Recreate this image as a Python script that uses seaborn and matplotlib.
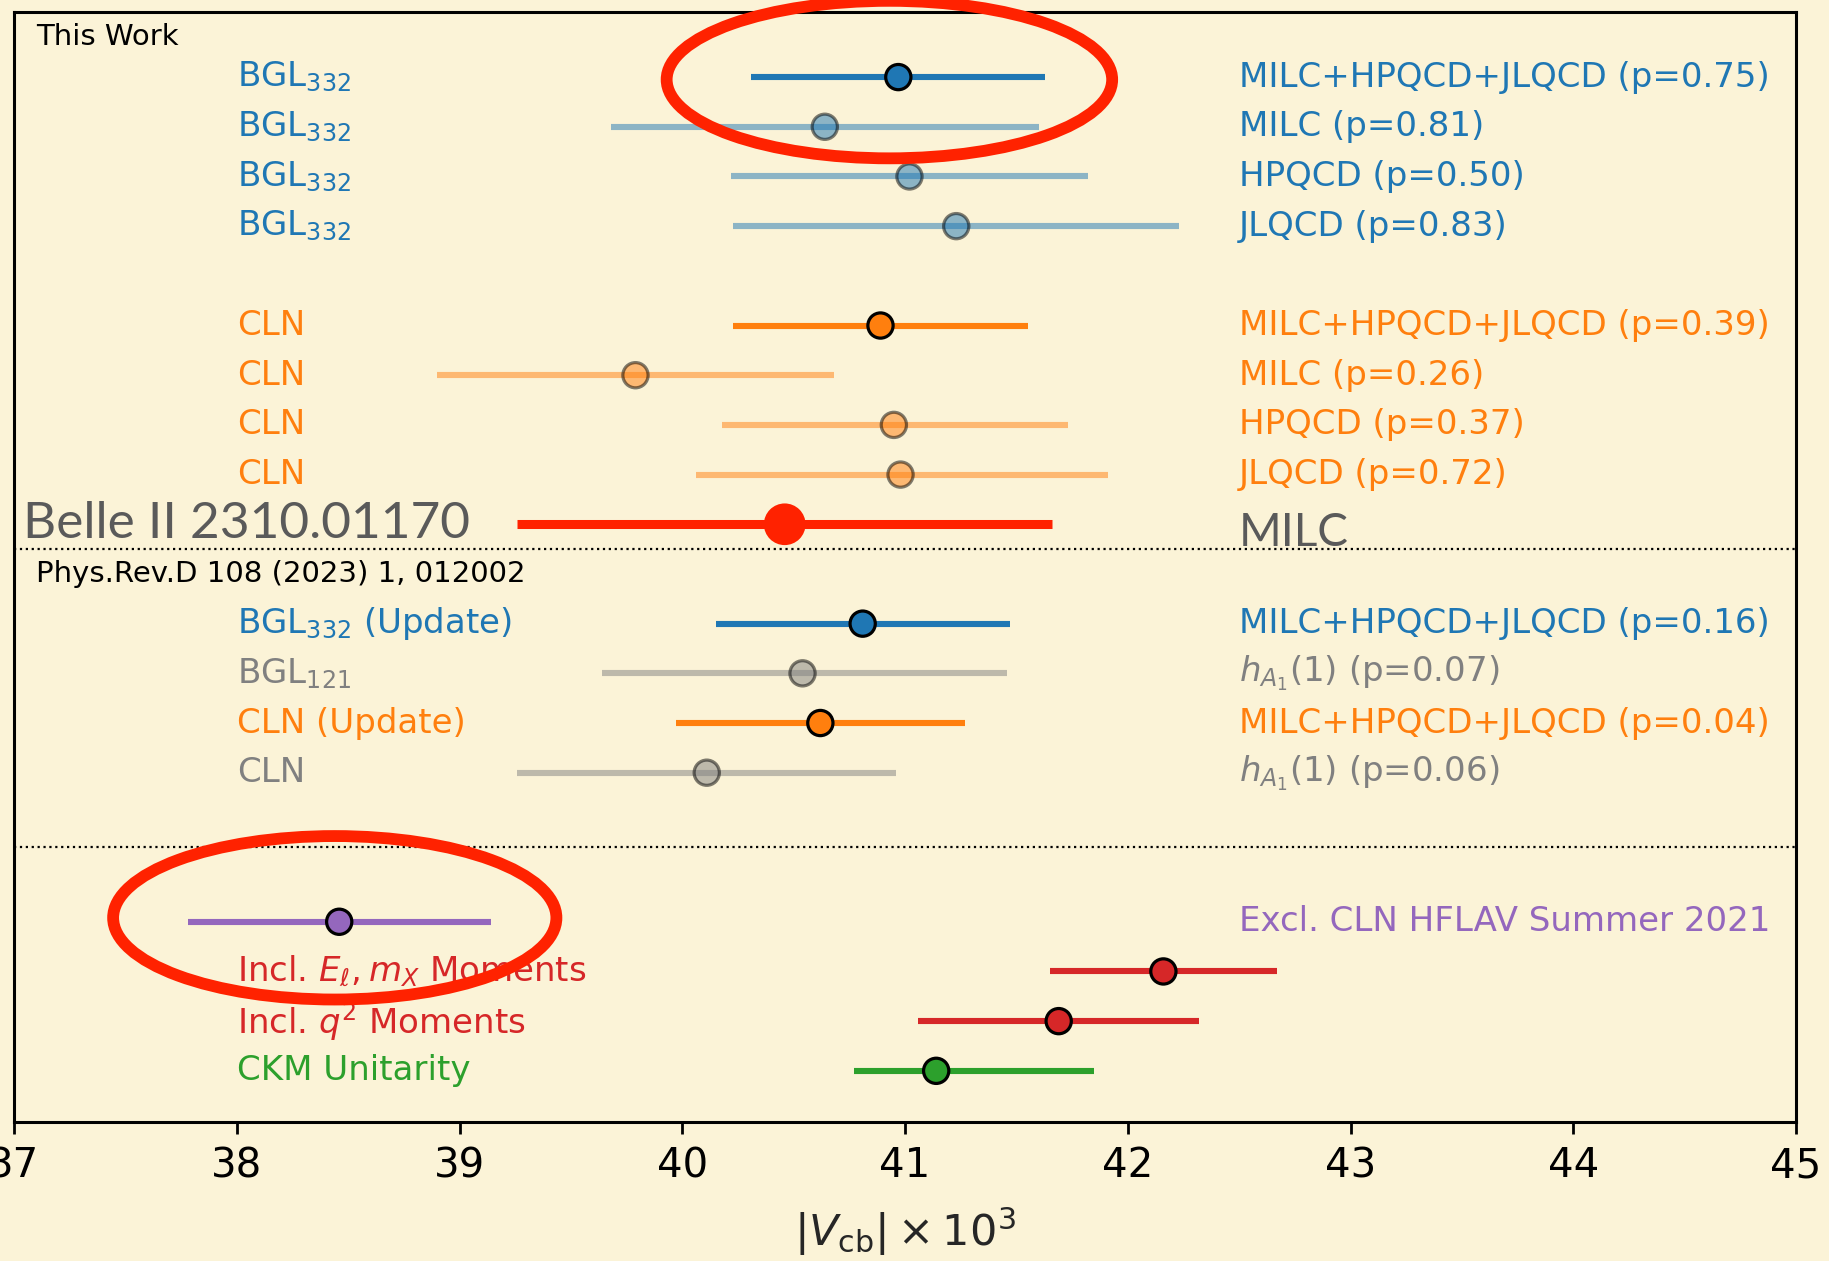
import numpy as np
import pandas as pd
import seaborn as sns
import matplotlib
matplotlib.use("Agg")
import matplotlib.pyplot as plt
from matplotlib.patches import Ellipse

# ---------------- data ----------------
y_pos = [20, 19, 18, 17, 15, 14, 13, 12, 9, 8, 7, 6, 3, 2, 1, 0]
centers = [40.97, 40.64, 41.02, 41.23, 40.89, 39.79, 40.95, 40.98,
           40.81, 40.54, 40.62, 40.11, 38.46, 42.16, 41.69, 41.14]
lows = [40.31, 39.68, 40.22, 40.23, 40.23, 38.90, 40.18, 40.06,
        40.15, 39.64, 39.97, 39.26, 37.78, 41.65, 41.06, 40.77]
highs = [41.63, 41.60, 41.82, 42.23, 41.55, 40.68, 41.73, 41.91,
         41.47, 41.46, 41.27, 40.96, 39.14, 42.67, 42.32, 41.85]
colors = ["#1f77b4"] * 4 + ["#ff7f0e"] * 4 + \
         ["#1f77b4", "#808080", "#ff7f0e", "#808080",
          "#9467bd", "#d62728", "#d62728", "#2ca02c"]
faded = [False, True, True, True, False, True, True, True,
         False, True, False, True, False, False, False, False]
left_labels = ["BGL$_{332}$"] * 4 + ["CLN"] * 4 + \
              ["BGL$_{332}$ (Update)", "BGL$_{121}$", "CLN (Update)", "CLN",
               "", r"Incl. $E_\ell, m_X$ Moments", r"Incl. $q^2$ Moments",
               "CKM Unitarity"]
right_labels = ["MILC+HPQCD+JLQCD (p=0.75)", "MILC (p=0.81)", "HPQCD (p=0.50)",
                "JLQCD (p=0.83)", "MILC+HPQCD+JLQCD (p=0.39)", "MILC (p=0.26)",
                "HPQCD (p=0.37)", "JLQCD (p=0.72)", "MILC+HPQCD+JLQCD (p=0.16)",
                "$h_{A_1}(1)$ (p=0.07)", "MILC+HPQCD+JLQCD (p=0.04)",
                "$h_{A_1}(1)$ (p=0.06)", "Excl. CLN HFLAV Summer 2021", "", "", ""]

belle_y = 11.0
belle_center = 40.46
belle_low = 39.26
belle_high = 41.66

x_ticks = [37, 38, 39, 40, 41, 42, 43, 44, 45]

df = pd.DataFrame(dict(y=y_pos, c=centers, lo=lows, hi=highs,
                       color=colors, faded=faded))

# ---------------- style ----------------
BG = "#fbf3d7"
sns.set_theme(style="ticks")
plt.rcParams["font.family"] = ["DejaVu Sans"]
plt.rcParams["mathtext.fontset"] = "dejavusans"

fig = plt.figure(figsize=(18.29, 12.61), dpi=100, facecolor=BG)
ax = fig.add_axes([14 / 1829, 1 - 1122 / 1261, (1796 - 14) / 1829, (1122 - 12) / 1261])
ax.set_facecolor(BG)

# error bars
for is_faded, grp in df.groupby("faded"):
    ax.hlines(grp["y"], grp["lo"], grp["hi"], colors=grp["color"],
              linewidth=4.4, alpha=0.5 if is_faded else 1.0, zorder=2)

pal = {c: c for c in set(colors)}
for is_faded, grp in df.groupby("faded"):
    sns.scatterplot(data=grp, x="c", y="y", hue="color", palette=pal,
                    s=330, edgecolor="black", linewidth=2.3,
                    alpha=0.5 if is_faded else 1.0, legend=False, ax=ax, zorder=3)

# Belle II overlay
ax.hlines([belle_y], [belle_low], [belle_high], colors="#ff2200", linewidth=6.5, zorder=4)
sns.scatterplot(x=[belle_center], y=[belle_y], color="#ff2200", s=900,
                edgecolor="none", linewidth=0, legend=False, ax=ax, zorder=5)

# labels
for yy, ll, rl, col in zip(y_pos, left_labels, right_labels, colors):
    if ll:
        ax.text(38.0, yy, ll, color=col, fontsize=24.5, va="center", ha="left")
    if rl:
        ax.text(42.5, yy, rl, color=col, fontsize=24.5, va="center", ha="left")

ax.text(37.1, 20.8, "This Work", fontsize=21, color="black", va="center")
ax.text(37.1, 10.0, "Phys.Rev.D 108 (2023) 1, 012002", fontsize=21,
        color="black", va="center")
ax.text(37.04, 11.0, "Belle II 2310.01170", fontsize=37, color="#5a5a5a",
        va="center", ha="left", family=["Lato", "DejaVu Sans"])
ax.text(42.5, 10.82, "MILC", fontsize=33, color="#5a5a5a",
        va="center", ha="left", family=["Lato", "DejaVu Sans"])

ax.axhline(10.5, color="black", linestyle=":", linewidth=1.6, zorder=1)
ax.axhline(4.5, color="black", linestyle=":", linewidth=1.6, zorder=1)

# red ellipses
for (cx, cy, w, h) in [(40.93, 19.95, 2.0, 3.17), (38.44, 3.08, 1.99, 3.29)]:
    e = Ellipse((cx, cy), w, h, fill=False, edgecolor="#ff2200",
                linewidth=8.5, zorder=10, clip_on=False)
    ax.add_patch(e)

ax.set_xlim(37, 45)
ax.set_ylim(-1.03, 21.31)
ax.set_xticks(x_ticks)
ax.set_xticklabels([str(t) for t in x_ticks])
ax.set_yticks([])
ax.set_ylabel("")
ax.set_xlabel(r"$|V_{\rm cb}| \times 10^3$", fontsize=31, labelpad=14)
ax.tick_params(axis="x", direction="out", length=8.5, width=2.0,
               labelsize=29, pad=9, color="black", labelcolor="black")
for sp in ax.spines.values():
    sp.set_visible(True)
    sp.set_linewidth(2.2)
    sp.set_color("black")

fig.savefig("out.png", dpi=100, facecolor=BG)
